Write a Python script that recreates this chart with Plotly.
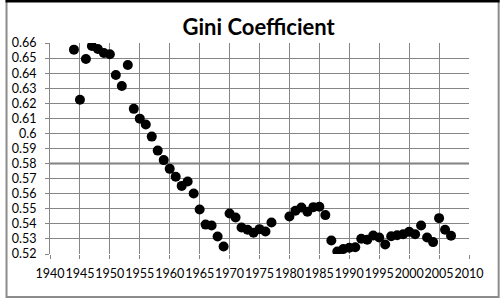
import plotly.graph_objects as go

years = [1944, 1945, 1946, 1947, 1948, 1949, 1950, 1951, 1952, 1953, 1954, 1955, 1956, 1957,
         1958, 1959, 1960, 1961, 1962, 1963, 1964, 1965, 1966, 1967, 1968, 1969, 1970, 1971,
         1972, 1973, 1974, 1975, 1976, 1977, 1980, 1981, 1982, 1983, 1984, 1985, 1986, 1987,
         1988, 1989, 1990, 1991, 1992, 1993, 1994, 1995, 1996, 1997, 1998, 1999, 2000, 2001,
         2002, 2003, 2004, 2005, 2006, 2007]
gini = [0.6556, 0.6224, 0.6494, 0.6580, 0.6560, 0.6534, 0.6525, 0.6388, 0.6315, 0.6454,
        0.6163, 0.6098, 0.6059, 0.5979, 0.5886, 0.5823, 0.5765, 0.5712, 0.5652, 0.5681,
        0.5601, 0.5495, 0.5395, 0.5389, 0.5316, 0.5250, 0.5469, 0.5442, 0.5376, 0.5361,
        0.5341, 0.5365, 0.5349, 0.5409, 0.5449, 0.5487, 0.5509, 0.5480, 0.5511, 0.5513,
        0.5458, 0.5290, 0.5217, 0.5233, 0.5242, 0.5245, 0.5301, 0.5295, 0.5323, 0.5310,
        0.5263, 0.5318, 0.5324, 0.5331, 0.5347, 0.5331, 0.5389, 0.5310, 0.5279, 0.5438,
        0.5361, 0.5321]

x_ticks = [1940, 1945, 1950, 1955, 1960, 1965, 1970, 1975, 1980, 1985, 1990, 1995, 2000, 2005, 2010]
y_ticks = [0.52, 0.53, 0.54, 0.55, 0.56, 0.57, 0.58, 0.59, 0.60, 0.61, 0.62, 0.63, 0.64, 0.65, 0.66]
y_labels = ["0.52", "0.53", "0.54", "0.55", "0.56", "0.57", "0.58", "0.59", "0.6",
            "0.61", "0.62", "0.63", "0.64", "0.65", "0.66"]
title = "Gini Coefficient"

W, H = 500, 300
ml, mr, mt, mb = 45, 31, 43, 46
pw, ph = W - ml - mr, H - mt - mb

fig = go.Figure()
fig.add_trace(go.Scatter(
    x=years, y=gini, mode="markers",
    marker=dict(color="black", size=10, line=dict(width=0)),
    showlegend=False, hoverinfo="skip"))

grid = "#868686"
ff = "Lato, Open Sans, sans-serif"
fig.update_layout(
    width=W, height=H, autosize=False,
    margin=dict(l=ml, r=mr, t=mt, b=mb, pad=0),
    paper_bgcolor="white", plot_bgcolor="white",
    font=dict(family=ff, size=12, color="black"),
    title=dict(text="<b>" + title + "</b>", x=0.498, xref="paper", xanchor="center",
               y=1 - 27 / H, yanchor="middle", yref="container",
               font=dict(family=ff, size=22, color="black")),
    xaxis=dict(range=[1940, 2010], tickvals=x_ticks, ticktext=[str(v) for v in x_ticks],
               tickangle=0,
               showgrid=True, gridcolor=grid, gridwidth=1,
               ticks="outside", ticklen=4, tickcolor=grid,
               showline=False, zeroline=False, ticklabelstandoff=4,
               tickfont=dict(size=12.5, family=ff)),
    yaxis=dict(range=[0.52, 0.66], tickvals=y_ticks, ticktext=y_labels,
               showgrid=True, gridcolor=grid, gridwidth=1,
               ticks="outside", ticklen=4, tickcolor=grid,
               showline=True, linecolor=grid, linewidth=1, zeroline=False,
               ticklabelstandoff=6,
               tickfont=dict(size=12.5, family=ff)),
)

# darker crossing line at 0.58
fig.add_shape(type="line", xref="paper", yref="y", x0=0, x1=1, y0=0.58, y1=0.58,
              line=dict(color="#7a7a7a", width=2), layer="below")

# chart border (frame of the screenshot)
px = lambda p: (p - ml) / pw
py = lambda p: (H - mb - p) / ph
fig.add_shape(type="rect", xref="paper", yref="paper",
              x0=px(1), x1=px(W - 1), y0=py(H - 3), y1=py(1),
              line=dict(color="#8c8c8c", width=2), fillcolor="rgba(0,0,0,0)")
fig.add_shape(type="line", xref="paper", yref="paper",
              x0=px(0), x1=px(W), y0=py(1), y1=py(1),
              line=dict(color="black", width=3))

fig.write_html("out.html")
